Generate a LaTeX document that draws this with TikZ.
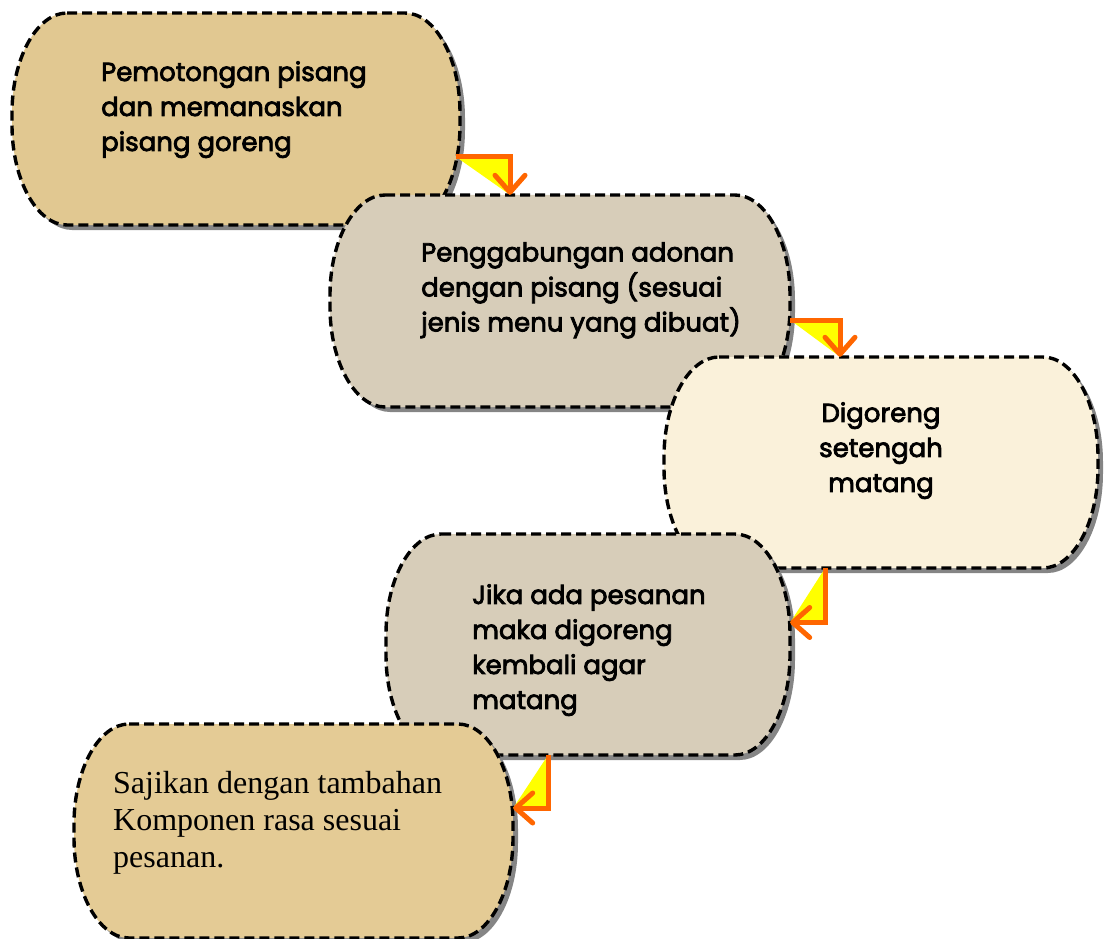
\documentclass[tikz,border=0pt]{standalone}
\usepackage{fontspec}
\setmainfont{Poppins}[FakeBold=3]
\newfontfamily\serifface{Liberation Serif}
\usetikzlibrary{arrows.meta,calc}
\definecolor{tanc}{HTML}{E1C891}
\definecolor{tanb}{HTML}{E4CB95}
\definecolor{linenc}{HTML}{D7CDB9}
\definecolor{creamc}{HTML}{FAF1DA}
\definecolor{shadowc}{HTML}{858585}
\definecolor{orangec}{HTML}{FF6600}
\definecolor{yellowc}{HTML}{FFFF00}
\tikzset{
  ovalshape/.style n args={4}{insert path={
    ({#1+55},#2) -- ({#3-55},#2)
    .. controls ({#3-25},#2) and (#3,{#2+45}) .. (#3,{#2+100})
    -- (#3,{#4-100})
    .. controls (#3,{#4-45}) and ({#3-25},#4) .. ({#3-55},#4)
    -- ({#1+55},#4)
    .. controls ({#1+25},#4) and (#1,{#4-45}) .. (#1,{#4-100})
    -- (#1,{#2+100})
    .. controls (#1,{#2+45}) and ({#1+25},#2) .. ({#1+55},#2) -- cycle}},
  outl/.style={draw=black, line width=3.4pt, dash pattern=on 10pt off 5pt},
  flow/.style={draw=orangec, line width=5pt, -{Straight Barb[length=17pt,width=30pt,round]}},
  tri/.style={fill=yellowc},
  kt/.style={font=\fontsize{26}{35}\selectfont, align=left, inner sep=0pt, anchor=north west},
}
\newcommand\stepbox[6]{%
  \fill[shadowc, shift={(5,5)}, ovalshape={#2}{#3}{#4}{#5}];
  \fill[#6, ovalshape={#2}{#3}{#4}{#5}];
  \draw[outl, ovalshape={#2}{#3}{#4}{#5}];
  \node[minimum width={#4-#2}, minimum height={#5-#3}, inner sep=0pt] (#1) at ({(#2+#4)/2},{(#3+#5)/2}) {};
}
\begin{document}
\begin{tikzpicture}[x=1pt,y=-1pt]
\useasboundingbox (0,0) rectangle (1109,939);
\stepbox{b1}{12}{13}{460}{225}{tanc}
\node[kt] (t1) at (101,61) {Pemotongan pisang\\dan memanaskan\\pisang goreng};
\stepbox{b2}{330}{195}{790}{407}{linenc}
\node[kt] (t2) at (421,242) {Penggabungan adonan\\dengan pisang (sesuai\\jenis menu yang dibuat)};
\stepbox{b3}{664}{357}{1098}{568}{creamc}
\node[kt, align=center, anchor=north] (t3) at (881,402) {Digoreng\\setengah\\matang};
\stepbox{b4}{386}{534}{790}{755}{linenc}
\node[kt] (t4) at (472,584) {Jika ada pesanan\\maka digoreng\\kembali agar\\matang};
\stepbox{b5}{74}{724}{513}{938}{tanb}
\node[kt, font=\serifface\fontsize{32}{37}\selectfont] (t5) at (113,771) {Sajikan dengan tambahan\\Komponen rasa sesuai\\pesanan.};
% connectors
\coordinate (s1) at ($(b1.east)+(-4,38)$);
\coordinate (e1) at ($(b2.north)+(-50,0)$);
\coordinate (s2) at ($(b2.east)+(0,19)$);
\coordinate (e2) at ($(b3.north)+(-41,0)$);
\coordinate (s3) at ($(b3.south)+(-56,0)$);
\coordinate (e3) at ($(b4.east)+(0,-22)$);
\coordinate (s4) at ($(b4.south)+(-40,0)$);
\coordinate (e4) at ($(b5.east)+(0,-23)$);
\fill[tri] (s1) -- (s1 -| e1) -- (e1) -- cycle;
\draw[flow] (s1) -| (e1);
\fill[tri] (s2) -- (s2 -| e2) -- (e2) -- cycle;
\draw[flow] (s2) -| (e2);
\fill[tri] (s3) -- (s3 |- e3) -- (e3) -- cycle;
\draw[flow] (s3) |- (e3);
\fill[tri] (s4) -- (s4 |- e4) -- (e4) -- cycle;
\draw[flow] (s4) |- (e4);
\end{tikzpicture}
\end{document}
